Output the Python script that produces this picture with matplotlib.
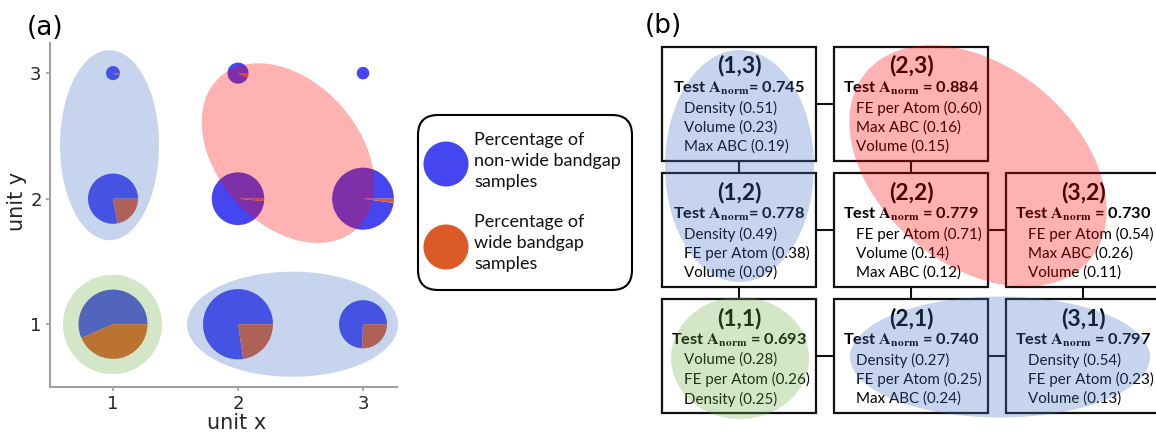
import matplotlib
matplotlib.use('Agg')
import matplotlib.pyplot as plt
from matplotlib.patches import Wedge, Ellipse, FancyBboxPatch, Rectangle, Circle

plt.rcParams['font.family'] = ['DejaVu Sans']
plt.rcParams['mathtext.fontset'] = 'stix'

# ---------------- Panel (a) data ----------------
unit_x = [1, 2, 3, 1, 2, 3, 1, 2, 3]
unit_y = [3, 3, 3, 2, 2, 2, 1, 1, 1]
pie_size = [0.056, 0.084, 0.050, 0.200, 0.210, 0.247, 0.276, 0.280, 0.192]
wide_fraction = [0.06, 0.07, 0.0, 0.22, 0.015, 0.022, 0.435, 0.226, 0.256]
tick_values = [1, 2, 3]

legend_labels = ['Percentage of\nnon-wide bandgap\nsamples',
                 'Percentage of\nwide bandgap\nsamples']

# ---------------- Panel (b) data ----------------
cell_labels = ['(1,3)', '(2,3)', '(1,2)', '(2,2)', '(3,2)', '(1,1)', '(2,1)', '(3,1)']
test_anorm = ['0.745', '0.884', '0.778', '0.779', '0.730', '0.693', '0.740', '0.797']
eq_gap = ['', ' ', '', ' ', ' ', ' ', ' ', ' ']
feat_names = [['Density', 'Volume', 'Max ABC'],
              ['FE per Atom', 'Max ABC', 'Volume'],
              ['Density', 'FE per Atom', 'Volume'],
              ['FE per Atom', 'Volume', 'Max ABC'],
              ['FE per Atom', 'Max ABC', 'Volume'],
              ['Volume', 'FE per Atom', 'Density'],
              ['Density', 'FE per Atom', 'Max ABC'],
              ['Density', 'FE per Atom', 'Volume']]
feat_vals = [[0.51, 0.23, 0.19],
             [0.60, 0.16, 0.15],
             [0.49, 0.38, 0.09],
             [0.71, 0.14, 0.12],
             [0.54, 0.26, 0.11],
             [0.28, 0.26, 0.25],
             [0.27, 0.25, 0.24],
             [0.54, 0.23, 0.13]]
links = [('(1,3)', '(2,3)'), ('(1,3)', '(1,2)'), ('(2,3)', '(2,2)'),
         ('(1,2)', '(2,2)'), ('(2,2)', '(3,2)'), ('(1,2)', '(1,1)'),
         ('(2,2)', '(2,1)'), ('(3,2)', '(3,1)'), ('(1,1)', '(2,1)'),
         ('(2,1)', '(3,1)')]

C_BLUE = '#4646F0'
C_ORANGE = '#DC5A28'
OV_BLUE = '#4472C4'
OV_RED = '#FF0000'
OV_GREEN = '#70AD47'
OV_ALPHA = 0.3

W, H = 1156, 436
fig = plt.figure(figsize=(W / 100, H / 100), dpi=100)

# ---------------- Panel (a) ----------------
ax = fig.add_axes([50 / W, 1 - 387 / H, 347 / W, 344 / H])
ax.set_xlim(0.496, 3.272)
ax.set_ylim(0.5, 3.24)
for x, y, r, f in zip(unit_x, unit_y, pie_size, wide_fraction):
    split = 360 * (1 - f)
    ax.add_patch(Wedge((x, y), r, 0, split, facecolor=C_BLUE, lw=0, zorder=2))
    if f > 0:
        ax.add_patch(Wedge((x, y), r, split, 360, facecolor=C_ORANGE, lw=0, zorder=2))

ax.add_patch(Ellipse((0.972, 2.426), 0.792, 1.514, facecolor=OV_BLUE, alpha=OV_ALPHA,
                     lw=0, zorder=3, clip_on=False))
ax.add_patch(Ellipse((2.40, 2.363), 1.632, 1.136, angle=-48, facecolor=OV_RED,
                     alpha=OV_ALPHA, lw=0, zorder=3, clip_on=False))
ax.add_patch(Ellipse((0.996, 0.998), 0.792, 0.792, facecolor=OV_GREEN, alpha=OV_ALPHA,
                     lw=0, zorder=3, clip_on=False))
ax.add_patch(Ellipse((2.436, 1.0), 1.688, 0.837, facecolor=OV_BLUE, alpha=OV_ALPHA,
                     lw=0, zorder=3, clip_on=False))

ax.set_xticks(tick_values)
ax.set_yticks(tick_values)
for s in ['top', 'right']:
    ax.spines[s].set_visible(False)
for s in ['left', 'bottom']:
    ax.spines[s].set_color('#A0A0A0')
    ax.spines[s].set_linewidth(1.5)
ax.tick_params(direction='out', length=3, width=1.2, color='#A0A0A0',
               labelsize=13, labelcolor='#262626', pad=3)
ax.set_xlabel('unit x', fontsize=15, color='#262626')
ax.set_ylabel('unit y', fontsize=15, color='#262626')
ax.xaxis.set_label_coords(0.539, -0.075)
ax.yaxis.set_label_coords(-0.065, 0.54)

fig.text(27 / W, 1 - 35 / H, '(a)', fontsize=19, ha='left', va='baseline')
fig.text(645 / W, 1 - 33 / H, '(b)', fontsize=19, ha='left', va='baseline')

# ---------------- Overlay axes (legend + panel b) ----------------
ov = fig.add_axes([0, 0, 1, 1])
ov.set_xlim(0, W)
ov.set_ylim(H, 0)
ov.axis('off')
ov.patch.set_visible(False)

# legend
ov.add_patch(FancyBboxPatch((418, 115), 214, 175,
                            boxstyle='round,pad=0,rounding_size=20',
                            facecolor='white', edgecolor='black', lw=1.5))
for cy, col, lab, ty in zip([164, 247], [C_BLUE, C_ORANGE], legend_labels, [161, 243]):
    ov.add_patch(Circle((446, cy), 22.5, facecolor=col, lw=0))
    ov.text(474, ty, lab, fontsize=13, family=['Lato', 'DejaVu Sans'],
            ha='left', va='center', linespacing=1.42, color='#111111')

# panel (b) boxes
BX0, BY0, BW, BH, DX, DY = 662, 47, 154, 114, 172, 126
pos = {}
for lab in cell_labels:
    cx_, cy_ = int(lab[1]), int(lab[3])
    col = cx_ - 1
    row = 3 - cy_
    pos[lab] = (BX0 + col * DX, BY0 + row * DY)

for a, b in links:
    xa, ya = pos[a]
    xb, yb = pos[b]
    if ya == yb:
        ov.plot([xa + BW, xb], [ya + BH / 2, ya + BH / 2], color='#111111', lw=1.5,
                solid_capstyle='butt', zorder=1)
    else:
        ov.plot([xa + BW / 2, xa + BW / 2], [ya + BH, yb], color='#111111', lw=1.5,
                solid_capstyle='butt', zorder=1)

for i, lab in enumerate(cell_labels):
    x0, y0 = pos[lab]
    ov.add_patch(Rectangle((x0, y0), BW, BH, facecolor='white', edgecolor='#111111',
                           lw=1.6, zorder=2))
    ov.text(x0 + BW / 2, y0 + 19, lab, fontsize=16.5, fontweight='bold',
            family=['Lato', 'DejaVu Sans'], ha='center', va='center', zorder=3)
    ov.text(x0 + BW / 2, y0 + 41,
            'Test $\\mathbf{A_{norm}}$' + eq_gap[i] + '= ' + test_anorm[i],
            fontsize=11.8, fontweight='bold', family=['Lato', 'DejaVu Sans'],
            ha='center', va='center', zorder=3)
    for k, (nm, v) in enumerate(zip(feat_names[i], feat_vals[i])):
        ov.text(x0 + 22, y0 + 61 + 19.5 * k, f'{nm} ({v:.2f})', fontsize=10.9,
                family=['Lato', 'DejaVu Sans'], ha='left', va='center', zorder=3)

# overlays in panel (b)
ov.add_patch(Ellipse((739.5, 166), 149, 232, facecolor=OV_BLUE, alpha=OV_ALPHA, lw=0, zorder=5))
ov.add_patch(Ellipse((740, 358), 138, 122, facecolor=OV_GREEN, alpha=OV_ALPHA, lw=0, zorder=5))
ov.add_patch(Ellipse((978, 166), 292, 198, angle=40, facecolor=OV_RED, alpha=OV_ALPHA,
                     lw=0, zorder=5))
ov.add_patch(Ellipse((1000, 357), 300, 121, facecolor=OV_BLUE, alpha=OV_ALPHA, lw=0, zorder=5))

fig.savefig('out.png', dpi=100)
